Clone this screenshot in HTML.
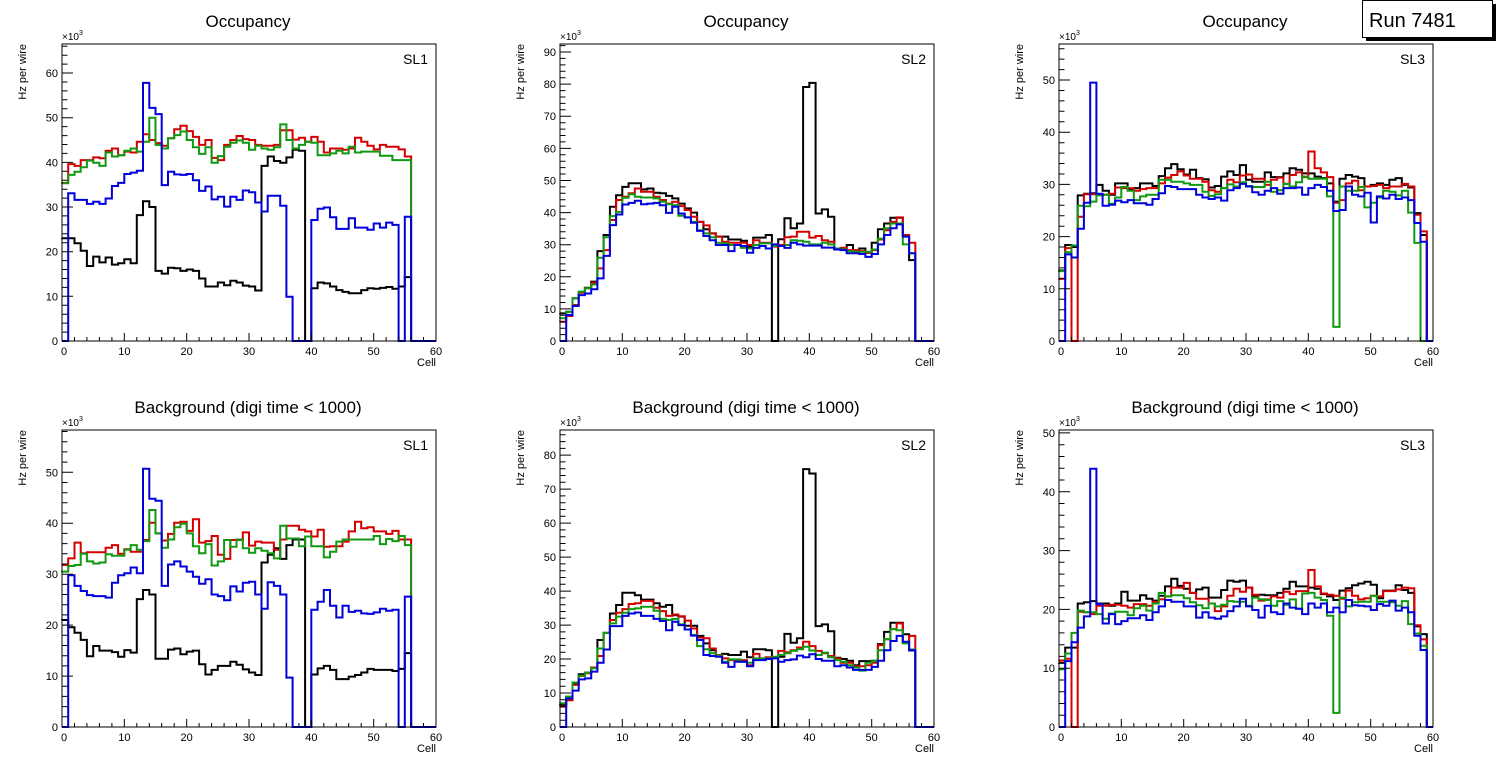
<!DOCTYPE html>
<html><head><meta charset="utf-8"><style>
html,body{margin:0;padding:0;background:#fff;}
svg{display:block;font-family:"Liberation Sans",Arial,sans-serif;}
</style></head><body>
<svg id="root" width="1496" height="772" viewBox="0 0 1496 772">
  <g>
    <rect x="1366" y="4" width="130" height="37" fill="#000"/>
    <rect x="1362.5" y="0.5" width="130" height="37" fill="#fff" stroke="#000" stroke-width="1"/>
    <text x="1369" y="27" font-size="20">Run 7481</text>
  </g>
</svg>
<script>
// ---- data (kHz per wire, bin = cell index 0..59) ----
const cells = 60;
const colors = ["#000000","#d40000","#119911","#0000dd"];
const seriesNames = ["layer-1","layer-2","layer-3","layer-4"];

const occSL1Black=[23,23,21.9,20.2,16.8,18.9,17.6,18.7,17.1,17.4,18.3,17.4,28.2,31.3,30,15.7,15.1,16.4,16.3,15.7,16,15.7,14,12.2,12.2,13.1,12.5,13.5,13.1,12.4,12.2,11.3,39.2,41.3,40.3,39.9,41.1,42.8,42.6,0,11.8,13.1,12.9,12.2,11.4,11,10.7,10.7,11.4,11.8,11.7,11.9,12.1,11.7,12.2,14.3,0,0,0,0];
const occSL1Red=[35.4,39.6,39.2,40.5,40.5,41.1,40.9,42.6,43.1,41.6,42.4,42.2,44.6,46.3,45,44.3,43.7,45.4,47.4,48.2,47,45.7,43.9,45,41,40.5,43.9,45,45.9,45.2,45,43.9,43.7,43.7,43.9,47.2,47.2,45.1,45.5,44.6,45.7,44.6,42.2,43.1,43.1,42.8,43.1,45.5,44.6,43.7,42.9,43.9,43.5,43.5,42.9,41.3,0,0,0,0];
const occSL1Green=[35.3,37.2,37.9,38.9,40.4,39.9,39.2,42.2,41.3,41.6,42.6,43.1,42.4,44.6,50,43.9,43.1,45.4,46.1,46.9,45,43.4,41.9,43.4,39.9,41.4,43.5,44.4,44.9,44.4,42.8,43.7,43.1,42.8,43.4,48.5,45,43.1,43.9,44.6,44.4,41.6,41.6,42,42.6,42,43.5,42.2,42.4,42.4,42.4,41.5,41.5,40.5,40.5,40.5,0,0,0,0];
const occSL1Blue=[0,33.1,31.6,31.6,30.7,31.2,30.7,31.9,34.7,35.4,37.4,37.7,38.1,57.8,52.2,50.8,34.9,37.9,37.3,37.2,37.4,36,33.6,34.6,31.7,32.3,30.1,32.3,31.6,33.7,33.3,31,29,32.5,32.5,30.3,9.9,0,0,0,27.1,29.6,29.9,27.7,25.1,25.1,27.5,25.4,25.4,24.9,26.3,25.4,26.5,26,0,27.8,0,0,0,0];

const occSL2Black=[8.6,9.1,13.3,15.1,16.6,18.5,28,33,41.8,45.4,48,49.1,49.1,47.2,47.5,46.2,46,45.2,44.4,42.8,41.3,40,37.1,34.8,33.5,32.5,32.5,31.6,31.6,31.2,29.4,32.2,32.2,33,0,31.7,38.2,35.1,36.6,79.1,80.4,39.7,41,38.7,28.8,29,29.9,27.6,28.8,27.5,30.6,34.8,36.6,38.4,38.4,33,25.2,0,0,0];
const occSL2Red=[6,7.8,11.2,15,16.4,18.2,22.6,28.3,37.7,43.9,44.9,46,47.5,46.5,46.5,44.9,43.9,42.8,43.4,42,40.8,38.7,37.1,36,33.5,32.5,30.9,30.6,30.6,30.6,29.9,31.4,30.6,30.6,29.4,29.9,32.3,32.5,34,34,32.2,32.7,31.4,30.9,28.6,29,28.3,28.3,28,27.5,28.3,31.6,34.5,37.1,38.5,33,30.6,0,0,0];
const occSL2Green=[7.1,9.1,13.3,15.4,16.4,17.6,25.9,32.3,38.9,40.2,44.6,45.7,44.9,44.7,44.7,44.4,43.4,42.6,42.3,39,38.5,37.1,34.5,33.5,32.3,30.6,30.4,29.9,29.9,29,28.8,29.9,30.4,30.4,29.6,29.6,29.9,31.4,31.2,30.9,30.1,30.1,30.6,30.1,28.8,28.5,28,27.8,27.8,27.8,28.5,31.9,35.1,36.6,36.6,30.1,27.3,0,0,0];
const occSL2Blue=[0,8.1,10.9,14.3,14.8,16.1,19.5,26.5,36.1,39.4,42.5,43,43.7,42.6,42.8,43,42.3,39.9,41.8,39.7,38.5,36.8,34.3,32.7,31.4,29.9,29.9,28,29.9,29.6,27.5,29,29.6,28.8,30.1,29.6,29,30.6,30.1,29.7,29.7,29.7,29.1,29.1,28.5,28.3,27.3,27.3,27.1,26.2,27.1,30.1,33,35.1,36.3,32.5,27.3,0,0,0];

const occSL3Black=[13.5,18.4,18,27.9,28.2,28.3,29.9,28.8,28,30.2,30.2,29.1,29.3,30.2,30.2,29.7,31.6,33.1,33.9,32.9,31.9,32.8,31.2,31,29.4,29.7,31.5,32.5,31.8,33.7,30.9,30.5,30.5,32.3,31.4,31.4,32.1,33.1,32.8,32.1,32.1,31.5,31.2,30.2,26.7,31.1,31.8,31.5,31.2,29.6,29.9,30.2,29.9,30.9,31.2,29.9,29.4,24.5,20.3,0];
const occSL3Red=[11.9,17.8,0,23.8,28.1,28.1,28,28,28.2,29.4,29.3,29.3,28.8,29.1,29.3,29.3,30.2,31.3,31.8,32.5,31.7,31.1,31.1,30.5,28.9,28.6,29.3,30.9,30.4,31.7,31.9,31.1,31.1,29.9,30.9,31.3,30.1,31.8,32.3,31.4,36.3,33.1,32.3,31.4,26.5,27,30.2,30.7,28.9,29.6,29.7,29.9,29.3,29.6,29.6,30.1,29.6,24.2,21,0];
const occSL3Green=[13.4,17,18.3,25.9,25.8,26.7,27.9,28,26.3,27.5,29.5,28.8,27,27.7,28,28,30.9,30.9,30.5,30.5,30.2,29.9,29.9,28.6,27.8,28.1,29.3,30,29.6,30.4,29.7,29.5,29.5,30.5,28.6,28.9,30.1,29.6,30.4,31.5,31.1,31.1,31.1,27.7,2.7,29.6,28.8,28.8,29.5,25.6,26.5,27.5,28.8,28.6,27.9,28.8,24.6,18.8,0,0];
const occSL3Blue=[0,16.6,16,21.5,26.5,49.5,28.2,25.9,26.1,26.9,26.6,27,26.4,26.4,26.1,27.2,28.3,29.7,29.5,29.1,29.1,29.1,28,27.5,27.2,27.5,26.9,28.9,29.3,30.1,29.6,28.5,28,28.8,29.3,28.2,29.3,29.3,29.4,28,29.3,29.9,29.5,28.8,24.9,25.1,29.6,28,27.7,28.4,22.7,27.7,27.3,28,27.2,27.5,27,22.6,19,0];

const bkgSL1Black=[21,19.6,18.5,17.1,13.9,15.9,15,15,14.7,13.8,15.1,14.6,25.1,26.9,26,13.4,13.4,15.2,15.4,14.3,14.8,15,12.3,10.3,11.2,12,12,12.8,12.2,11.3,10.7,10.2,32.3,33.8,35.1,33,35.7,36.8,36.8,0,10.3,11.5,12,11.2,9.4,9.4,9.9,10.2,10.7,11.4,11.2,11.2,11.2,11,11.4,14.5,0,0,0,0];
const bkgSL1Red=[31.8,33.1,36.2,34.1,34.3,34.3,34.3,35.2,35.7,34,34.9,34.4,34.4,36.7,40.1,38,36.6,37.9,40.1,40.3,38.5,40.8,36.2,36.5,37.5,33.8,33,36.7,36.7,38.2,35.6,36.4,36.2,36.2,34.8,36.8,39.5,39.5,38.7,38.4,37.4,38.7,35.4,35.5,35.5,36.4,38.4,40.3,39,39.2,38.4,38.4,37.9,38.5,36.8,36.8,0,0,0,0];
const bkgSL1Green=[30.5,31.6,31.8,34,32.5,32.1,32.3,33.9,33.6,33.6,34.8,35.7,34.8,36.5,42.6,38,35.2,36.8,39.2,39.9,38,35.5,34.1,35.9,31.7,32.5,36.7,35.4,36.8,35.1,34.2,35.1,34.6,34.1,33.1,39.5,37,37,35.5,37.4,35.5,35.5,33.3,34.4,36.4,36.8,36.8,36.8,36.8,36.8,37.5,35.9,36.9,36.5,37.5,35.7,0,0,0,0];
const bkgSL1Blue=[0,29.8,27.7,26.7,25.9,25.7,25.7,25.4,28.3,29.8,30.2,31.3,30.2,50.7,44.8,44.4,27.7,31.9,32.5,31.5,30.5,29.5,28.1,29,26,25.7,24.9,27.6,26.6,28.3,28.5,26,23.2,28.4,27.7,26,9.7,0,0,0,23,24.6,26.9,23.8,21.5,23.8,22.6,22.8,22.3,22.2,22.5,23.2,22.8,23,0,25.6,0,0,0,0];

const bkgSL2Black=[6.5,8.9,12.8,15.5,16,17.5,25.6,27.7,33.4,35.9,39.5,39.5,38.8,37.5,37.5,36.4,35.4,35.9,32.9,32.5,29.8,29.8,26.8,24.6,22.6,20.9,21.5,21.2,21.2,22.2,20.5,22.9,22.9,22.6,0,20.7,27.4,24.8,26.1,75.9,74.6,29.7,30.2,28.2,20.4,20,19.5,18.2,19.4,19.4,19.5,24.4,28,30.7,30.7,27.3,22.5,0,0,0];
const bkgSL2Red=[6,7.9,12.4,15,15.8,17.5,20.9,27.7,31.5,33.6,34.7,36.2,36.4,37.1,37.1,35.1,34.1,32.7,33.1,32.6,31.3,29,26.3,26.1,23.1,21.2,20.2,19.7,19.7,19.7,18.2,21.5,20.2,20.5,20.5,22.4,22,22.6,23.4,25.1,23.8,22.4,21.7,20.9,20.2,18.9,18.9,17.9,17.9,18.2,18.9,24.1,25.8,28.8,30.5,24.8,26.8,0,0,0];
const bkgSL2Green=[7,8.9,13.1,15.1,16,17.3,23.1,27.7,30.5,32.5,33.6,34.7,34.9,35.4,35.4,34.2,31.8,31.5,31.8,30.2,28.7,27.1,23.8,22.9,21.7,21,19.2,19.9,19.9,19.2,18.9,20.2,20.2,20.2,20.7,21.2,21.7,22.4,22.9,23.6,22.5,21.2,21.9,20.5,19.7,19.2,18.2,17.5,16.6,18.9,19.4,22.6,25.8,28.8,28.5,24.6,22.8,0,0,0];
const bkgSL2Blue=[0,8.4,10.7,14,14.3,16.3,18.9,22.8,29.7,29.7,32.7,33.4,33.7,32.7,32.7,31.8,31.2,28.5,31,30,28.7,26.9,25.6,21.2,20.9,20.7,18.9,17.7,19.2,19.2,17.9,19.7,19.7,20,20.2,19.2,19.7,19.9,21,20.5,21.4,20,19.5,19.5,17.9,18.2,17.5,16.8,16.8,16.8,17.7,19.5,22.6,25.3,26.8,25.1,22.6,0,0,0];

const bkgSL3Black=[10.9,13.5,13.5,21,21.2,21.4,21,21,20.6,21,23,21.5,21.5,22.4,21.8,21.5,22.3,23.9,25.2,24,23.5,22.8,23.4,23.7,22,22,23.3,24.9,24.7,24.9,23.7,22.2,22.5,22.4,22.4,22.8,23.5,24.7,23.9,23.9,23.7,23.5,22.6,22.2,21.6,23.2,23.6,24.1,24.4,24.7,24.2,21.9,23.2,23.2,24.1,23.3,22.8,17.1,15.8,0];
const bkgSL3Red=[11.3,11.6,0,19.6,19.5,19.2,20.6,20.6,20.8,20.8,20.6,20.3,20.9,20.9,20.6,21.3,21.7,22.2,23.7,23.7,24.5,22.8,21.8,21.8,21,19.7,20.5,22.3,23.5,23,23.7,22.5,21.5,21.7,22.2,22,23,22.6,23.1,23.1,26.7,23.9,22.7,22.5,22.3,21.8,23.2,22.3,21.7,21.9,22.3,22.2,23.1,23.1,23.4,23.7,23.6,17.3,14.9,0];
const bkgSL3Green=[9.8,12.5,16,19.8,19.5,19.5,19.2,18.4,19.3,19.6,19.6,19,20.2,20.6,19.8,21,22.8,22.2,22.4,22.4,21.9,21.2,20.7,20.2,21,20.5,20.8,21.4,21.3,21.3,20.6,22,21.7,21.6,20.6,21.4,20.8,21.7,20.1,22.7,22.8,22,21.6,18.9,2.4,22,20.5,21.2,21.3,21.3,22.3,21.3,21.3,21.2,20.6,21.4,17.5,15.9,13.8,0];
const bkgSL3Blue=[0,11.2,14.4,16.9,18.8,43.9,20.9,17.6,19.2,17.5,18,18.5,18.5,19,18.2,19.5,20.5,21.6,21.3,21.3,20.5,20.5,18.6,19.5,18.6,18.4,18.8,19.7,20.5,21.8,20.5,19.9,18.6,20.6,19.5,19.2,21,20.3,20.1,19.2,21,20.3,21,19.5,20.3,19.5,21.6,20.7,20.6,20.5,19.9,20.9,20.6,21.5,19.8,20.3,19.5,15.5,13.1,0];

const panelTitles=["Occupancy","Occupancy","Occupancy","Background (digi time < 1000)","Background (digi time < 1000)","Background (digi time < 1000)"];
const panelLabels=["SL1","SL2","SL3","SL1","SL2","SL3"];
const panelYMax=[66.5,92.5,56.9,58.3,87.4,50.5];
const panelSeries=[
 [occSL1Black,occSL1Red,occSL1Green,occSL1Blue],
 [occSL2Black,occSL2Red,occSL2Green,occSL2Blue],
 [occSL3Black,occSL3Red,occSL3Green,occSL3Blue],
 [bkgSL1Black,bkgSL1Red,bkgSL1Green,bkgSL1Blue],
 [bkgSL2Black,bkgSL2Red,bkgSL2Green,bkgSL2Blue],
 [bkgSL3Black,bkgSL3Red,bkgSL3Green,bkgSL3Blue]
];
const xTickLabels=["0","10","20","30","40","50","60"];

// ---- layout ----
const colX=[[62,436],[560,934],[1059,1433]];
const rowY=[[44,341],[430,727]];
const NS="http://www.w3.org/2000/svg";
const root=document.getElementById("root");
function mk(tag,attrs,parent){const e=document.createElementNS(NS,tag);for(const k in attrs)e.setAttribute(k,attrs[k]);(parent||root).appendChild(e);return e;}

for(let p=0;p<6;p++){
  const [x0,x1]=colX[p%3];
  const [y0,y1]=rowY[Math.floor(p/3)];
  const ymax=panelYMax[p];
  const xs=v=>x0+(x1-x0)*v/cells;
  const ys=v=>y1-(y1-y0)*v/ymax;
  const g=mk("g",{});
  
  

  const title=mk("text",{x:(x0+x1)/2-1,y:y0-17,"font-size":17,"text-anchor":"middle"},g);
  title.textContent=panelTitles[p];
  
  

  // series
  panelSeries[p].forEach((arr,si)=>{
    let d="M"+xs(0)+","+ys(arr[0]||0);
    for(let i=0;i<cells;i++){
      const v=arr[i]||0;
      d+=" V"+ys(v).toFixed(1)+" H"+xs(i+1).toFixed(1);
    }
    const path=mk("path",{d:d,fill:"none",stroke:colors[si],"stroke-width":2,"stroke-linejoin":"miter"},g);
    
    
  });

  // frame
  const fr=mk("rect",{x:x0,y:y0,width:x1-x0,height:y1-y0,fill:"none",stroke:"#000","stroke-width":1},g);
  
  

  // y ticks
  let yt="";
  for(let v=0;v<=ymax+1e-6;v+=2){
    const isMajor=Math.abs(v%10)<1e-6;
    const yy=ys(v);
    yt+="M"+x0+","+yy.toFixed(1)+" h"+(isMajor?11:5.5);
    if(isMajor){
      const t=mk("text",{x:x0-4,y:yy+4,"font-size":11,"text-anchor":"end"},g);
      t.textContent=String(v);
      
      
    }
  }
  const ytp=mk("path",{d:yt,stroke:"#000","stroke-width":1,fill:"none"},g);
  
  

  // x ticks
  let xt="";
  for(let c=0;c<=cells;c+=2){
    const isMajor=c%10===0;
    const xx=xs(c);
    xt+="M"+xx.toFixed(1)+","+y1+" v"+(isMajor?-8:-4);
  }
  const xtp=mk("path",{d:xt,stroke:"#000","stroke-width":1,fill:"none"},g);
  
  
  xTickLabels.forEach((lab,i)=>{
    const t=mk("text",{x:xs(i*10)+(i===0?2:0),y:y1+14,"font-size":11,"text-anchor":"middle"},g);
    t.textContent=lab;
    
    
  });

  const xl=mk("text",{x:x1,y:y1+25,"font-size":11,"text-anchor":"end"},g);
  xl.textContent="Cell";
  
  

  const yl=mk("text",{x:0,y:0,"font-size":11,"text-anchor":"end",transform:"translate("+(x0-36)+","+y0+") rotate(-90)"},g);
  yl.textContent="Hz per wire";
  
  

  const ex=mk("text",{x:x0,y:y0-4,"font-size":10},g);
  ex.innerHTML='×10<tspan dy="-5" font-size="7">3</tspan>';
  
  

  const sl=mk("text",{x:x1-8,y:y0+20,"font-size":14,"text-anchor":"end"},g);
  sl.textContent=panelLabels[p];
  
  
}
</script>
</body></html>
